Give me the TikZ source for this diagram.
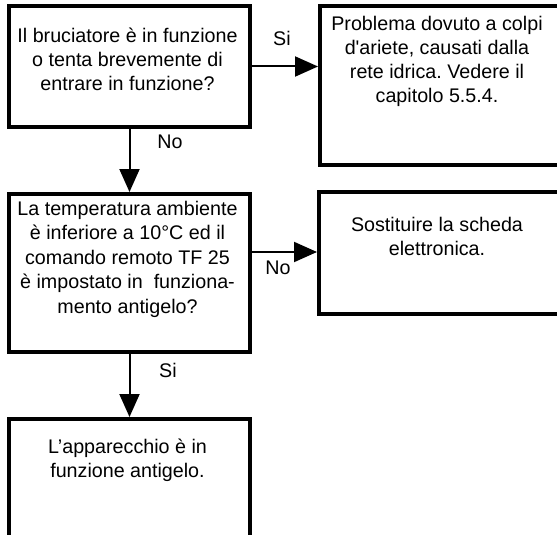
\documentclass[tikz,border=0pt]{standalone}
\usepackage{fontspec}
\setmainfont{Liberation Sans}
\usetikzlibrary{arrows.meta}
\frenchspacing
\begin{document}
\begin{tikzpicture}[x=1pt,y=-1pt,
  box/.style={draw,line width=4pt,rectangle,inner sep=0pt,anchor=north west},
  txt/.style={anchor=north,inner sep=0pt,align=center,
    font=\fontsize{19.7}{24}\selectfont},
  lbl/.style={inner sep=0pt,font=\fontsize{19.7}{24}\selectfont},
  flow/.style={line width=2pt,-{Triangle[length=23pt,width=20pt]}}]
\useasboundingbox (0,0) rectangle (557,535);
\clip (0,0) rectangle (557,535);

% boxes
\node[box,minimum width=241pt,minimum height=121pt] (b1) at (7,4) {};
\node[box,minimum width=302pt,minimum height=159pt] (b2) at (318,4) {};
\node[box,minimum width=241pt,minimum height=158pt] (b3) at (7,192) {};
\node[box,minimum width=303pt,minimum height=122pt] (b4) at (317,190) {};
\node[box,minimum width=241pt,minimum height=183pt] (b5) at (7,417) {};

% texts
\node[txt] (t1) at (127.5,28) {Il bruciatore è in funzione\\o tenta brevemente di\\entrare in funzione?};
\node[txt] (t2) at (437,16) {Problema dovuto a colpi\\d\textquotesingle ariete, causati dalla\\rete idrica. Vedere il\\capitolo 5.5.4.};
\node[txt,font=\fontsize{19.7}{24.4}\selectfont] (t3) at (127.5,201) {La temperatura ambiente\\è inferiore a 10°C ed il\\comando remoto TF 25\\è impostato in~ funziona-\\mento antigelo?};
\node[txt] (t4) at (437,217) {Sostituire la scheda\\elettronica.};
\node[txt] (t5) at (127.5,439) {L’apparecchio è in\\funzione antigelo.};

% connectors
\coordinate (c1) at (0,252);
\draw[flow] (b1.east) -- (b2.west |- b1.east);
\draw[flow] (b1.south) -- (b3.north);
\draw[flow] (b3.east |- c1) -- (b4.west |- c1);
\draw[flow] (b3.south) -- (b5.north);

% branch labels
\node[lbl] (l1) at (282,38) {Si};
\node[lbl] (l2) at (170,142) {No};
\node[lbl] (l3) at (278,268) {No};
\node[lbl] (l4) at (168,370) {Si};
\end{tikzpicture}
\end{document}
